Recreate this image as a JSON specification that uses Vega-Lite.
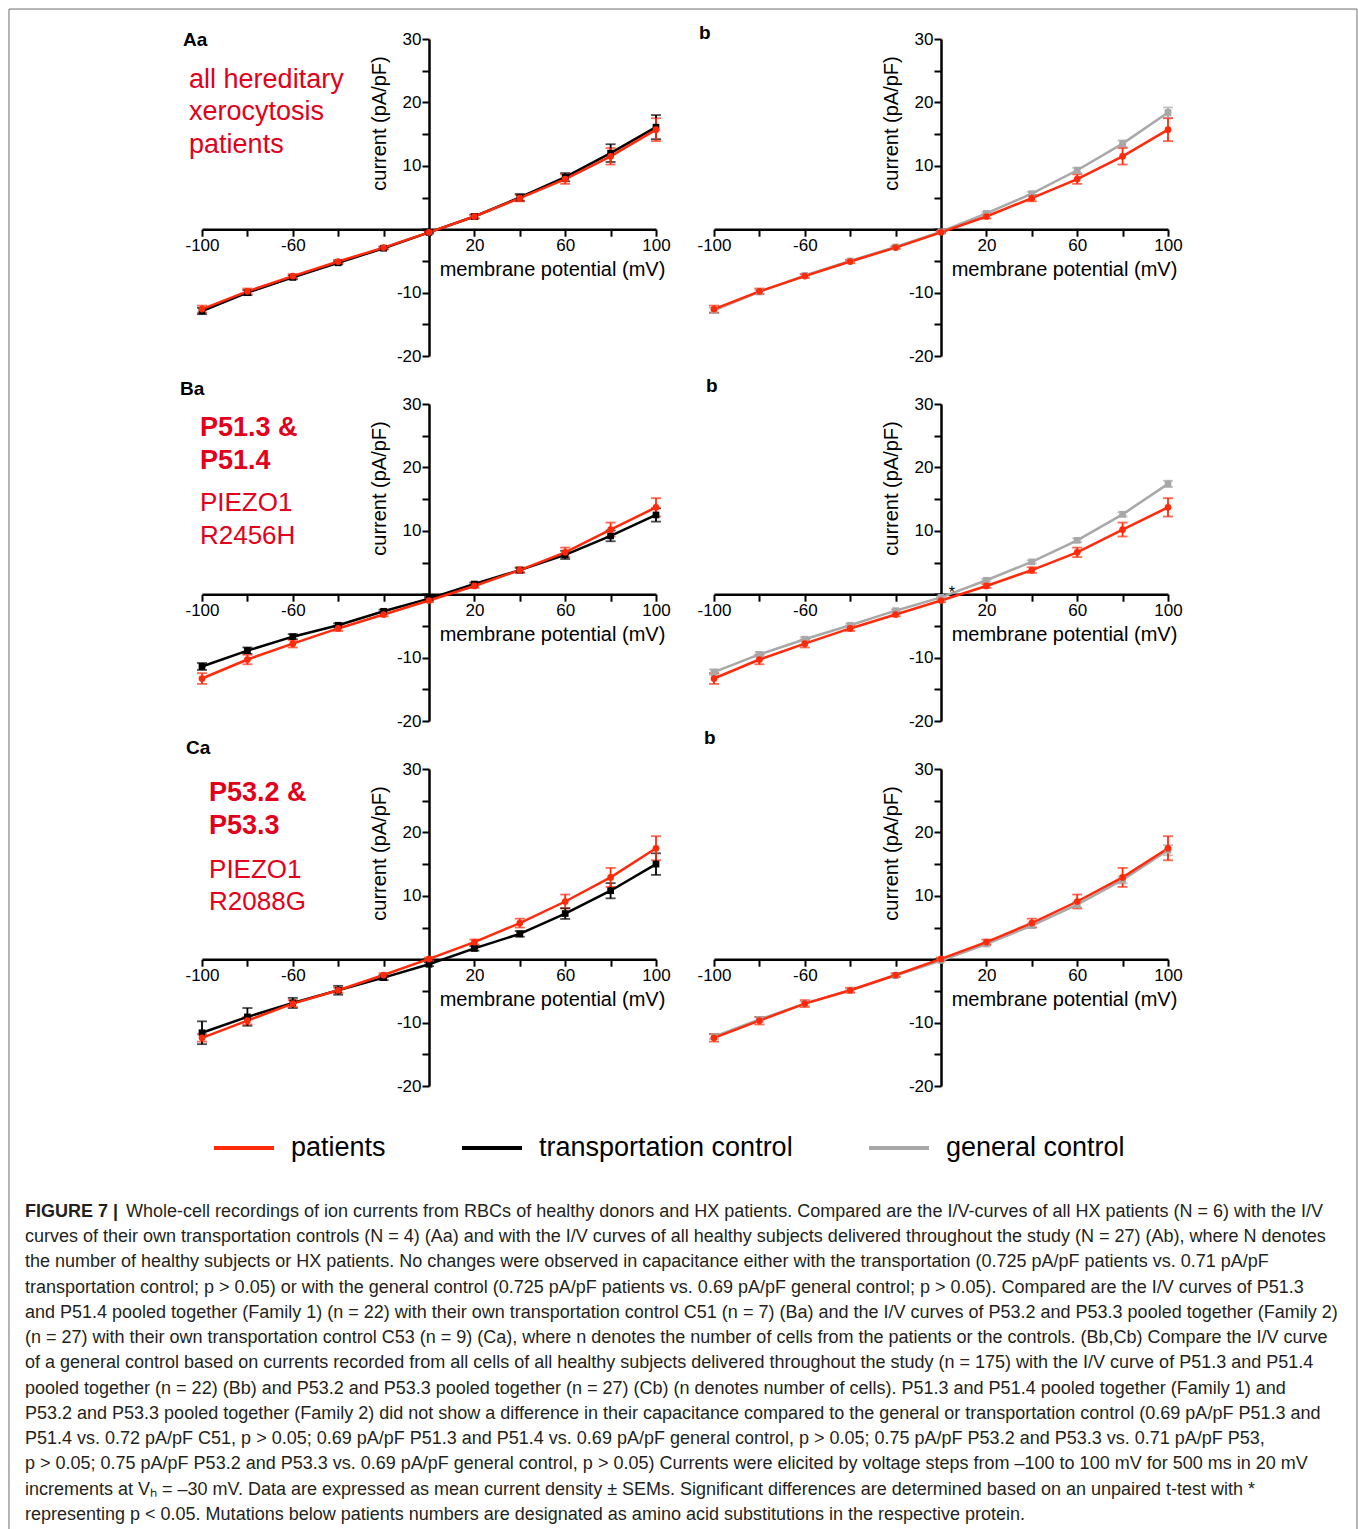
{
  "$schema": "https://vega.github.io/schema/vega-lite/v6.json",
  "padding": {"left": 8, "top": 8, "right": 1, "bottom": 1},
  "autosize": {"type": "pad"},
  "background": "white",
  "bounds": "flush",
  "columns": 2,
  "spacing": {"row": 48, "column": 58},
  "datasets": {
    "iv": [
      {"panel":"Aa","group":"transportation control","mV":-100,"I":-12.9,"sem":0.5},
      {"panel":"Aa","group":"transportation control","mV":-80,"I":-10.0,"sem":0.4},
      {"panel":"Aa","group":"transportation control","mV":-60,"I":-7.6,"sem":0.3},
      {"panel":"Aa","group":"transportation control","mV":-40,"I":-5.3,"sem":0.25},
      {"panel":"Aa","group":"transportation control","mV":-20,"I":-3.0,"sem":0.2},
      {"panel":"Aa","group":"transportation control","mV":0,"I":-0.5,"sem":0.15},
      {"panel":"Aa","group":"transportation control","mV":20,"I":2.0,"sem":0.3},
      {"panel":"Aa","group":"transportation control","mV":40,"I":5.0,"sem":0.55},
      {"panel":"Aa","group":"transportation control","mV":60,"I":8.2,"sem":0.65},
      {"panel":"Aa","group":"transportation control","mV":80,"I":12.0,"sem":1.4},
      {"panel":"Aa","group":"transportation control","mV":100,"I":16.1,"sem":1.9},
      {"panel":"Aa","group":"patients","mV":-100,"I":-12.6,"sem":0.55},
      {"panel":"Aa","group":"patients","mV":-80,"I":-9.8,"sem":0.45},
      {"panel":"Aa","group":"patients","mV":-60,"I":-7.4,"sem":0.3},
      {"panel":"Aa","group":"patients","mV":-40,"I":-5.1,"sem":0.25},
      {"panel":"Aa","group":"patients","mV":-20,"I":-2.9,"sem":0.2},
      {"panel":"Aa","group":"patients","mV":0,"I":-0.5,"sem":0.15},
      {"panel":"Aa","group":"patients","mV":20,"I":2.0,"sem":0.3},
      {"panel":"Aa","group":"patients","mV":40,"I":4.9,"sem":0.5},
      {"panel":"Aa","group":"patients","mV":60,"I":7.9,"sem":0.75},
      {"panel":"Aa","group":"patients","mV":80,"I":11.5,"sem":1.3},
      {"panel":"Aa","group":"patients","mV":100,"I":15.7,"sem":1.8},

      {"panel":"Ab","group":"general control","mV":-100,"I":-12.8,"sem":0.4},
      {"panel":"Ab","group":"general control","mV":-80,"I":-9.9,"sem":0.3},
      {"panel":"Ab","group":"general control","mV":-60,"I":-7.3,"sem":0.25},
      {"panel":"Ab","group":"general control","mV":-40,"I":-5.0,"sem":0.2},
      {"panel":"Ab","group":"general control","mV":-20,"I":-2.8,"sem":0.15},
      {"panel":"Ab","group":"general control","mV":0,"I":-0.4,"sem":0.15},
      {"panel":"Ab","group":"general control","mV":20,"I":2.5,"sem":0.2},
      {"panel":"Ab","group":"general control","mV":40,"I":5.6,"sem":0.3},
      {"panel":"Ab","group":"general control","mV":60,"I":9.3,"sem":0.4},
      {"panel":"Ab","group":"general control","mV":80,"I":13.5,"sem":0.5},
      {"panel":"Ab","group":"general control","mV":100,"I":18.4,"sem":0.8},
      {"panel":"Ab","group":"patients","mV":-100,"I":-12.6,"sem":0.55},
      {"panel":"Ab","group":"patients","mV":-80,"I":-9.8,"sem":0.45},
      {"panel":"Ab","group":"patients","mV":-60,"I":-7.4,"sem":0.3},
      {"panel":"Ab","group":"patients","mV":-40,"I":-5.1,"sem":0.25},
      {"panel":"Ab","group":"patients","mV":-20,"I":-2.9,"sem":0.2},
      {"panel":"Ab","group":"patients","mV":0,"I":-0.5,"sem":0.15},
      {"panel":"Ab","group":"patients","mV":20,"I":2.0,"sem":0.3},
      {"panel":"Ab","group":"patients","mV":40,"I":4.9,"sem":0.5},
      {"panel":"Ab","group":"patients","mV":60,"I":7.9,"sem":0.75},
      {"panel":"Ab","group":"patients","mV":80,"I":11.5,"sem":1.3},
      {"panel":"Ab","group":"patients","mV":100,"I":15.7,"sem":1.8},

      {"panel":"Ba","group":"transportation control","mV":-100,"I":-11.4,"sem":0.55},
      {"panel":"Ba","group":"transportation control","mV":-80,"I":-8.9,"sem":0.5},
      {"panel":"Ba","group":"transportation control","mV":-60,"I":-6.7,"sem":0.4},
      {"panel":"Ba","group":"transportation control","mV":-40,"I":-4.9,"sem":0.3},
      {"panel":"Ba","group":"transportation control","mV":-20,"I":-2.7,"sem":0.25},
      {"panel":"Ba","group":"transportation control","mV":0,"I":-0.7,"sem":0.25},
      {"panel":"Ba","group":"transportation control","mV":20,"I":1.6,"sem":0.25},
      {"panel":"Ba","group":"transportation control","mV":40,"I":3.8,"sem":0.35},
      {"panel":"Ba","group":"transportation control","mV":60,"I":6.2,"sem":0.65},
      {"panel":"Ba","group":"transportation control","mV":80,"I":9.2,"sem":0.85},
      {"panel":"Ba","group":"transportation control","mV":100,"I":12.5,"sem":1.05},
      {"panel":"Ba","group":"patients","mV":-100,"I":-13.3,"sem":0.85},
      {"panel":"Ba","group":"patients","mV":-80,"I":-10.3,"sem":0.75},
      {"panel":"Ba","group":"patients","mV":-60,"I":-7.8,"sem":0.6},
      {"panel":"Ba","group":"patients","mV":-40,"I":-5.4,"sem":0.4},
      {"panel":"Ba","group":"patients","mV":-20,"I":-3.2,"sem":0.3},
      {"panel":"Ba","group":"patients","mV":0,"I":-1.0,"sem":0.25},
      {"panel":"Ba","group":"patients","mV":20,"I":1.3,"sem":0.3},
      {"panel":"Ba","group":"patients","mV":40,"I":3.8,"sem":0.45},
      {"panel":"Ba","group":"patients","mV":60,"I":6.6,"sem":0.75},
      {"panel":"Ba","group":"patients","mV":80,"I":10.2,"sem":1.1},
      {"panel":"Ba","group":"patients","mV":100,"I":13.7,"sem":1.45},

      {"panel":"Bb","group":"general control","mV":-100,"I":-12.3,"sem":0.45},
      {"panel":"Bb","group":"general control","mV":-80,"I":-9.5,"sem":0.35},
      {"panel":"Bb","group":"general control","mV":-60,"I":-7.1,"sem":0.3},
      {"panel":"Bb","group":"general control","mV":-40,"I":-4.9,"sem":0.25},
      {"panel":"Bb","group":"general control","mV":-20,"I":-2.6,"sem":0.2},
      {"panel":"Bb","group":"general control","mV":0,"I":-0.5,"sem":0.15},
      {"panel":"Bb","group":"general control","mV":20,"I":2.2,"sem":0.2},
      {"panel":"Bb","group":"general control","mV":40,"I":5.1,"sem":0.25},
      {"panel":"Bb","group":"general control","mV":60,"I":8.5,"sem":0.3},
      {"panel":"Bb","group":"general control","mV":80,"I":12.6,"sem":0.35},
      {"panel":"Bb","group":"general control","mV":100,"I":17.4,"sem":0.5},
      {"panel":"Bb","group":"patients","mV":-100,"I":-13.3,"sem":0.85},
      {"panel":"Bb","group":"patients","mV":-80,"I":-10.3,"sem":0.75},
      {"panel":"Bb","group":"patients","mV":-60,"I":-7.8,"sem":0.6},
      {"panel":"Bb","group":"patients","mV":-40,"I":-5.4,"sem":0.4},
      {"panel":"Bb","group":"patients","mV":-20,"I":-3.2,"sem":0.3},
      {"panel":"Bb","group":"patients","mV":0,"I":-1.0,"sem":0.25},
      {"panel":"Bb","group":"patients","mV":20,"I":1.3,"sem":0.3},
      {"panel":"Bb","group":"patients","mV":40,"I":3.8,"sem":0.45},
      {"panel":"Bb","group":"patients","mV":60,"I":6.6,"sem":0.75},
      {"panel":"Bb","group":"patients","mV":80,"I":10.2,"sem":1.1},
      {"panel":"Bb","group":"patients","mV":100,"I":13.7,"sem":1.45},

      {"panel":"Ca","group":"transportation control","mV":-100,"I":-11.6,"sem":1.8},
      {"panel":"Ca","group":"transportation control","mV":-80,"I":-9.1,"sem":1.4},
      {"panel":"Ca","group":"transportation control","mV":-60,"I":-6.9,"sem":0.8},
      {"panel":"Ca","group":"transportation control","mV":-40,"I":-4.9,"sem":0.7},
      {"panel":"Ca","group":"transportation control","mV":-20,"I":-2.9,"sem":0.4},
      {"panel":"Ca","group":"transportation control","mV":0,"I":-0.8,"sem":0.3},
      {"panel":"Ca","group":"transportation control","mV":20,"I":1.7,"sem":0.35},
      {"panel":"Ca","group":"transportation control","mV":40,"I":4.0,"sem":0.45},
      {"panel":"Ca","group":"transportation control","mV":60,"I":7.2,"sem":0.85},
      {"panel":"Ca","group":"transportation control","mV":80,"I":10.8,"sem":1.2},
      {"panel":"Ca","group":"transportation control","mV":100,"I":15.0,"sem":1.7},
      {"panel":"Ca","group":"patients","mV":-100,"I":-12.4,"sem":0.6},
      {"panel":"Ca","group":"patients","mV":-80,"I":-9.7,"sem":0.6},
      {"panel":"Ca","group":"patients","mV":-60,"I":-7.0,"sem":0.55},
      {"panel":"Ca","group":"patients","mV":-40,"I":-4.9,"sem":0.4},
      {"panel":"Ca","group":"patients","mV":-20,"I":-2.5,"sem":0.3},
      {"panel":"Ca","group":"patients","mV":0,"I":0.05,"sem":0.2},
      {"panel":"Ca","group":"patients","mV":20,"I":2.7,"sem":0.4},
      {"panel":"Ca","group":"patients","mV":40,"I":5.7,"sem":0.7},
      {"panel":"Ca","group":"patients","mV":60,"I":9.1,"sem":1.1},
      {"panel":"Ca","group":"patients","mV":80,"I":12.9,"sem":1.5},
      {"panel":"Ca","group":"patients","mV":100,"I":17.5,"sem":1.9},

      {"panel":"Cb","group":"general control","mV":-100,"I":-12.2,"sem":0.4},
      {"panel":"Cb","group":"general control","mV":-80,"I":-9.5,"sem":0.35},
      {"panel":"Cb","group":"general control","mV":-60,"I":-7.0,"sem":0.3},
      {"panel":"Cb","group":"general control","mV":-40,"I":-4.9,"sem":0.25},
      {"panel":"Cb","group":"general control","mV":-20,"I":-2.6,"sem":0.2},
      {"panel":"Cb","group":"general control","mV":0,"I":-0.2,"sem":0.15},
      {"panel":"Cb","group":"general control","mV":20,"I":2.4,"sem":0.25},
      {"panel":"Cb","group":"general control","mV":40,"I":5.3,"sem":0.3},
      {"panel":"Cb","group":"general control","mV":60,"I":8.6,"sem":0.4},
      {"panel":"Cb","group":"general control","mV":80,"I":12.5,"sem":0.55},
      {"panel":"Cb","group":"general control","mV":100,"I":17.2,"sem":0.8},
      {"panel":"Cb","group":"patients","mV":-100,"I":-12.4,"sem":0.6},
      {"panel":"Cb","group":"patients","mV":-80,"I":-9.7,"sem":0.6},
      {"panel":"Cb","group":"patients","mV":-60,"I":-7.0,"sem":0.55},
      {"panel":"Cb","group":"patients","mV":-40,"I":-4.9,"sem":0.4},
      {"panel":"Cb","group":"patients","mV":-20,"I":-2.5,"sem":0.3},
      {"panel":"Cb","group":"patients","mV":0,"I":0.05,"sem":0.2},
      {"panel":"Cb","group":"patients","mV":20,"I":2.7,"sem":0.4},
      {"panel":"Cb","group":"patients","mV":40,"I":5.7,"sem":0.7},
      {"panel":"Cb","group":"patients","mV":60,"I":9.1,"sem":1.1},
      {"panel":"Cb","group":"patients","mV":80,"I":12.9,"sem":1.5},
      {"panel":"Cb","group":"patients","mV":100,"I":17.5,"sem":1.9}
    ]
  },
  "concat": [
    {
      "width": 454, "height": 317,
      "title": {"text": "Aa", "anchor": "start", "frame": "group", "dx": -19, "offset": -20, "fontSize": 19, "fontWeight": "bold", "color": "#000"},
      "layer": [
        {"data": {"name": "iv"}, "transform": [{"filter": "datum.panel === 'Aa'"}], "mark": {"type": "errorbar", "ticks": {"size": 10, "thickness": 1.8}, "thickness": 1.8},
         "encoding": {
          "x": {"field": "mV", "type": "quantitative", "scale": {"domain": [-100, 100], "nice": false, "zero": false}, "axis": {"title": "membrane potential (mV)", "offset": -126.8, "values": [-100,-80,-60,-40,-20,0,20,40,60,80,100], "labelExpr": "indexof([-100,-60,20,60,100], datum.value) >= 0 ? '' + datum.value : ''", "titleX": 350, "titleY": 40, "titleBaseline": "middle"}},
          "y": {"field": "I", "type": "quantitative", "scale": {"domain": [-20, 30], "nice": false, "zero": false}, "axis": {"title": "current (pA/pF)", "offset": -227, "values": [-20,-15,-10,-5,0,5,10,15,20,25,30], "labelExpr": "datum.value % 10 === 0 && datum.value !== 0 ? '' + datum.value : ''", "titleX": -50, "titleY": 84, "titleBaseline": "middle"}},
          "yError": {"field": "sem"},
          "color": {"field": "group", "type": "nominal", "scale": {"domain": ["general control", "transportation control", "patients"], "range": ["#a8a8a8", "#000000", "#ff2a0a"]}, "legend": null}}},
        {"data": {"name": "iv"}, "transform": [{"filter": "datum.panel === 'Aa'"}], "mark": {"type": "line", "strokeWidth": 2.5},
         "encoding": {
          "x": {"field": "mV", "type": "quantitative", "scale": {"domain": [-100, 100], "nice": false, "zero": false}, "axis": {"title": "membrane potential (mV)", "offset": -126.8, "values": [-100,-80,-60,-40,-20,0,20,40,60,80,100], "labelExpr": "indexof([-100,-60,20,60,100], datum.value) >= 0 ? '' + datum.value : ''", "titleX": 350, "titleY": 40, "titleBaseline": "middle"}},
          "y": {"field": "I", "type": "quantitative", "scale": {"domain": [-20, 30], "nice": false, "zero": false}, "axis": {"title": "current (pA/pF)", "offset": -227, "values": [-20,-15,-10,-5,0,5,10,15,20,25,30], "labelExpr": "datum.value % 10 === 0 && datum.value !== 0 ? '' + datum.value : ''", "titleX": -50, "titleY": 84, "titleBaseline": "middle"}},
          "stroke": {"field": "group", "type": "nominal", "scale": {"domain": ["patients", "transportation control", "general control"], "range": ["#ff2a0a", "#000000", "#a8a8a8"]}, "legend": {"orient": "none", "legendX": 10, "legendY": 1077, "direction": "horizontal", "title": null, "symbolType": "stroke", "symbolSize": 3600, "symbolStrokeWidth": 4, "labelFontSize": 27, "labelOffset": 15, "columnPadding": 68, "labelColor": "#000", "labelLimit": 500, "padding": 0}}}},
        {"data": {"name": "iv"}, "transform": [{"filter": "datum.panel === 'Aa'"}], "mark": {"type": "point", "filled": true, "size": 45, "opacity": 1},
         "encoding": {
          "x": {"field": "mV", "type": "quantitative", "scale": {"domain": [-100, 100], "nice": false, "zero": false}, "axis": {"title": "membrane potential (mV)", "offset": -126.8, "values": [-100,-80,-60,-40,-20,0,20,40,60,80,100], "labelExpr": "indexof([-100,-60,20,60,100], datum.value) >= 0 ? '' + datum.value : ''", "titleX": 350, "titleY": 40, "titleBaseline": "middle"}},
          "y": {"field": "I", "type": "quantitative", "scale": {"domain": [-20, 30], "nice": false, "zero": false}, "axis": {"title": "current (pA/pF)", "offset": -227, "values": [-20,-15,-10,-5,0,5,10,15,20,25,30], "labelExpr": "datum.value % 10 === 0 && datum.value !== 0 ? '' + datum.value : ''", "titleX": -50, "titleY": 84, "titleBaseline": "middle"}},
          "color": {"field": "group", "type": "nominal", "scale": {"domain": ["general control", "transportation control", "patients"], "range": ["#a8a8a8", "#000000", "#ff2a0a"]}, "legend": null},
          "shape": {"field": "group", "type": "nominal", "scale": {"domain": ["general control", "transportation control", "patients"], "range": ["square", "square", "circle"]}, "legend": null}}},
        {"data": {"values": [{"note": "annotation"}]}, "mark": {"type": "text", "align": "left", "baseline": "alphabetic", "fontSize": 27, "lineHeight": 32.5, "color": "#e2001a"},
         "encoding": {
          "x": {"datum": -105.7, "type": "quantitative", "axis": {"title": "membrane potential (mV)", "offset": -126.8, "values": [-100,-80,-60,-40,-20,0,20,40,60,80,100], "labelExpr": "indexof([-100,-60,20,60,100], datum.value) >= 0 ? '' + datum.value : ''", "titleX": 350, "titleY": 40, "titleBaseline": "middle"}},
          "y": {"datum": 22.3, "type": "quantitative", "axis": {"title": "current (pA/pF)", "offset": -227, "values": [-20,-15,-10,-5,0,5,10,15,20,25,30], "labelExpr": "datum.value % 10 === 0 && datum.value !== 0 ? '' + datum.value : ''", "titleX": -50, "titleY": 84, "titleBaseline": "middle"}},
          "text": {"value": ["all hereditary", "xerocytosis", "patients"]}}}
      ]
    },
    {
      "width": 454, "height": 317,
      "title": {"text": "b", "anchor": "start", "frame": "group", "dx": -15, "offset": -13, "fontSize": 19, "fontWeight": "bold", "color": "#000"},
      "layer": [
        {"data": {"name": "iv"}, "transform": [{"filter": "datum.panel === 'Ab'"}], "mark": {"type": "errorbar", "ticks": {"size": 10, "thickness": 1.8}, "thickness": 1.8},
         "encoding": {
          "x": {"field": "mV", "type": "quantitative", "scale": {"domain": [-100, 100], "nice": false, "zero": false}, "axis": {"title": "membrane potential (mV)", "offset": -126.8, "values": [-100,-80,-60,-40,-20,0,20,40,60,80,100], "labelExpr": "indexof([-100,-60,20,60,100], datum.value) >= 0 ? '' + datum.value : ''", "titleX": 350, "titleY": 40, "titleBaseline": "middle"}},
          "y": {"field": "I", "type": "quantitative", "scale": {"domain": [-20, 30], "nice": false, "zero": false}, "axis": {"title": "current (pA/pF)", "offset": -227, "values": [-20,-15,-10,-5,0,5,10,15,20,25,30], "labelExpr": "datum.value % 10 === 0 && datum.value !== 0 ? '' + datum.value : ''", "titleX": -50, "titleY": 84, "titleBaseline": "middle"}},
          "yError": {"field": "sem"},
          "color": {"field": "group", "type": "nominal", "scale": {"domain": ["general control", "transportation control", "patients"], "range": ["#a8a8a8", "#000000", "#ff2a0a"]}, "legend": null}}},
        {"data": {"name": "iv"}, "transform": [{"filter": "datum.panel === 'Ab'"}], "mark": {"type": "line", "strokeWidth": 2.5},
         "encoding": {
          "x": {"field": "mV", "type": "quantitative", "scale": {"domain": [-100, 100], "nice": false, "zero": false}, "axis": {"title": "membrane potential (mV)", "offset": -126.8, "values": [-100,-80,-60,-40,-20,0,20,40,60,80,100], "labelExpr": "indexof([-100,-60,20,60,100], datum.value) >= 0 ? '' + datum.value : ''", "titleX": 350, "titleY": 40, "titleBaseline": "middle"}},
          "y": {"field": "I", "type": "quantitative", "scale": {"domain": [-20, 30], "nice": false, "zero": false}, "axis": {"title": "current (pA/pF)", "offset": -227, "values": [-20,-15,-10,-5,0,5,10,15,20,25,30], "labelExpr": "datum.value % 10 === 0 && datum.value !== 0 ? '' + datum.value : ''", "titleX": -50, "titleY": 84, "titleBaseline": "middle"}},
          "stroke": {"field": "group", "type": "nominal", "scale": {"domain": ["patients", "transportation control", "general control"], "range": ["#ff2a0a", "#000000", "#a8a8a8"]}, "legend": {"orient": "none", "legendX": 10, "legendY": 1077, "direction": "horizontal", "title": null, "symbolType": "stroke", "symbolSize": 3600, "symbolStrokeWidth": 4, "labelFontSize": 27, "labelOffset": 15, "columnPadding": 68, "labelColor": "#000", "labelLimit": 500, "padding": 0}}}},
        {"data": {"name": "iv"}, "transform": [{"filter": "datum.panel === 'Ab'"}], "mark": {"type": "point", "filled": true, "size": 45, "opacity": 1},
         "encoding": {
          "x": {"field": "mV", "type": "quantitative", "scale": {"domain": [-100, 100], "nice": false, "zero": false}, "axis": {"title": "membrane potential (mV)", "offset": -126.8, "values": [-100,-80,-60,-40,-20,0,20,40,60,80,100], "labelExpr": "indexof([-100,-60,20,60,100], datum.value) >= 0 ? '' + datum.value : ''", "titleX": 350, "titleY": 40, "titleBaseline": "middle"}},
          "y": {"field": "I", "type": "quantitative", "scale": {"domain": [-20, 30], "nice": false, "zero": false}, "axis": {"title": "current (pA/pF)", "offset": -227, "values": [-20,-15,-10,-5,0,5,10,15,20,25,30], "labelExpr": "datum.value % 10 === 0 && datum.value !== 0 ? '' + datum.value : ''", "titleX": -50, "titleY": 84, "titleBaseline": "middle"}},
          "color": {"field": "group", "type": "nominal", "scale": {"domain": ["general control", "transportation control", "patients"], "range": ["#a8a8a8", "#000000", "#ff2a0a"]}, "legend": null},
          "shape": {"field": "group", "type": "nominal", "scale": {"domain": ["general control", "transportation control", "patients"], "range": ["square", "square", "circle"]}, "legend": null}}}
      ]
    },
    {
      "width": 454, "height": 317,
      "title": {"text": "Ba", "anchor": "start", "frame": "group", "dx": -22, "offset": -4, "fontSize": 19, "fontWeight": "bold", "color": "#000"},
      "layer": [
        {"data": {"name": "iv"}, "transform": [{"filter": "datum.panel === 'Ba'"}], "mark": {"type": "errorbar", "ticks": {"size": 10, "thickness": 1.8}, "thickness": 1.8},
         "encoding": {
          "x": {"field": "mV", "type": "quantitative", "scale": {"domain": [-100, 100], "nice": false, "zero": false}, "axis": {"title": "membrane potential (mV)", "offset": -126.8, "values": [-100,-80,-60,-40,-20,0,20,40,60,80,100], "labelExpr": "indexof([-100,-60,20,60,100], datum.value) >= 0 ? '' + datum.value : ''", "titleX": 350, "titleY": 40, "titleBaseline": "middle"}},
          "y": {"field": "I", "type": "quantitative", "scale": {"domain": [-20, 30], "nice": false, "zero": false}, "axis": {"title": "current (pA/pF)", "offset": -227, "values": [-20,-15,-10,-5,0,5,10,15,20,25,30], "labelExpr": "datum.value % 10 === 0 && datum.value !== 0 ? '' + datum.value : ''", "titleX": -50, "titleY": 84, "titleBaseline": "middle"}},
          "yError": {"field": "sem"},
          "color": {"field": "group", "type": "nominal", "scale": {"domain": ["general control", "transportation control", "patients"], "range": ["#a8a8a8", "#000000", "#ff2a0a"]}, "legend": null}}},
        {"data": {"name": "iv"}, "transform": [{"filter": "datum.panel === 'Ba'"}], "mark": {"type": "line", "strokeWidth": 2.5},
         "encoding": {
          "x": {"field": "mV", "type": "quantitative", "scale": {"domain": [-100, 100], "nice": false, "zero": false}, "axis": {"title": "membrane potential (mV)", "offset": -126.8, "values": [-100,-80,-60,-40,-20,0,20,40,60,80,100], "labelExpr": "indexof([-100,-60,20,60,100], datum.value) >= 0 ? '' + datum.value : ''", "titleX": 350, "titleY": 40, "titleBaseline": "middle"}},
          "y": {"field": "I", "type": "quantitative", "scale": {"domain": [-20, 30], "nice": false, "zero": false}, "axis": {"title": "current (pA/pF)", "offset": -227, "values": [-20,-15,-10,-5,0,5,10,15,20,25,30], "labelExpr": "datum.value % 10 === 0 && datum.value !== 0 ? '' + datum.value : ''", "titleX": -50, "titleY": 84, "titleBaseline": "middle"}},
          "stroke": {"field": "group", "type": "nominal", "scale": {"domain": ["patients", "transportation control", "general control"], "range": ["#ff2a0a", "#000000", "#a8a8a8"]}, "legend": {"orient": "none", "legendX": 10, "legendY": 1077, "direction": "horizontal", "title": null, "symbolType": "stroke", "symbolSize": 3600, "symbolStrokeWidth": 4, "labelFontSize": 27, "labelOffset": 15, "columnPadding": 68, "labelColor": "#000", "labelLimit": 500, "padding": 0}}}},
        {"data": {"name": "iv"}, "transform": [{"filter": "datum.panel === 'Ba'"}], "mark": {"type": "point", "filled": true, "size": 45, "opacity": 1},
         "encoding": {
          "x": {"field": "mV", "type": "quantitative", "scale": {"domain": [-100, 100], "nice": false, "zero": false}, "axis": {"title": "membrane potential (mV)", "offset": -126.8, "values": [-100,-80,-60,-40,-20,0,20,40,60,80,100], "labelExpr": "indexof([-100,-60,20,60,100], datum.value) >= 0 ? '' + datum.value : ''", "titleX": 350, "titleY": 40, "titleBaseline": "middle"}},
          "y": {"field": "I", "type": "quantitative", "scale": {"domain": [-20, 30], "nice": false, "zero": false}, "axis": {"title": "current (pA/pF)", "offset": -227, "values": [-20,-15,-10,-5,0,5,10,15,20,25,30], "labelExpr": "datum.value % 10 === 0 && datum.value !== 0 ? '' + datum.value : ''", "titleX": -50, "titleY": 84, "titleBaseline": "middle"}},
          "color": {"field": "group", "type": "nominal", "scale": {"domain": ["general control", "transportation control", "patients"], "range": ["#a8a8a8", "#000000", "#ff2a0a"]}, "legend": null},
          "shape": {"field": "group", "type": "nominal", "scale": {"domain": ["general control", "transportation control", "patients"], "range": ["square", "square", "circle"]}, "legend": null}}},
        {"data": {"values": [{"note": "annotation"}]}, "mark": {"type": "text", "align": "left", "baseline": "alphabetic", "fontSize": 27, "fontWeight": "bold", "lineHeight": 33, "color": "#e2001a"},
         "encoding": {
          "x": {"datum": -100.9, "type": "quantitative", "axis": {"title": "membrane potential (mV)", "offset": -126.8, "values": [-100,-80,-60,-40,-20,0,20,40,60,80,100], "labelExpr": "indexof([-100,-60,20,60,100], datum.value) >= 0 ? '' + datum.value : ''", "titleX": 350, "titleY": 40, "titleBaseline": "middle"}},
          "y": {"datum": 24.9, "type": "quantitative", "axis": {"title": "current (pA/pF)", "offset": -227, "values": [-20,-15,-10,-5,0,5,10,15,20,25,30], "labelExpr": "datum.value % 10 === 0 && datum.value !== 0 ? '' + datum.value : ''", "titleX": -50, "titleY": 84, "titleBaseline": "middle"}},
          "text": {"value": ["P51.3 &", "P51.4"]}}},
        {"data": {"values": [{"note": "annotation"}]}, "mark": {"type": "text", "align": "left", "baseline": "alphabetic", "fontSize": 26, "lineHeight": 33, "color": "#e2001a"},
         "encoding": {
          "x": {"datum": -100.9, "type": "quantitative", "axis": {"title": "membrane potential (mV)", "offset": -126.8, "values": [-100,-80,-60,-40,-20,0,20,40,60,80,100], "labelExpr": "indexof([-100,-60,20,60,100], datum.value) >= 0 ? '' + datum.value : ''", "titleX": 350, "titleY": 40, "titleBaseline": "middle"}},
          "y": {"datum": 13.1, "type": "quantitative", "axis": {"title": "current (pA/pF)", "offset": -227, "values": [-20,-15,-10,-5,0,5,10,15,20,25,30], "labelExpr": "datum.value % 10 === 0 && datum.value !== 0 ? '' + datum.value : ''", "titleX": -50, "titleY": 84, "titleBaseline": "middle"}},
          "text": {"value": ["PIEZO1", "R2456H"]}}}
      ]
    },
    {
      "width": 454, "height": 317,
      "title": {"text": "b", "anchor": "start", "frame": "group", "dx": -8, "offset": -1, "fontSize": 19, "fontWeight": "bold", "color": "#000"},
      "layer": [
        {"data": {"name": "iv"}, "transform": [{"filter": "datum.panel === 'Bb'"}], "mark": {"type": "errorbar", "ticks": {"size": 10, "thickness": 1.8}, "thickness": 1.8},
         "encoding": {
          "x": {"field": "mV", "type": "quantitative", "scale": {"domain": [-100, 100], "nice": false, "zero": false}, "axis": {"title": "membrane potential (mV)", "offset": -126.8, "values": [-100,-80,-60,-40,-20,0,20,40,60,80,100], "labelExpr": "indexof([-100,-60,20,60,100], datum.value) >= 0 ? '' + datum.value : ''", "titleX": 350, "titleY": 40, "titleBaseline": "middle"}},
          "y": {"field": "I", "type": "quantitative", "scale": {"domain": [-20, 30], "nice": false, "zero": false}, "axis": {"title": "current (pA/pF)", "offset": -227, "values": [-20,-15,-10,-5,0,5,10,15,20,25,30], "labelExpr": "datum.value % 10 === 0 && datum.value !== 0 ? '' + datum.value : ''", "titleX": -50, "titleY": 84, "titleBaseline": "middle"}},
          "yError": {"field": "sem"},
          "color": {"field": "group", "type": "nominal", "scale": {"domain": ["general control", "transportation control", "patients"], "range": ["#a8a8a8", "#000000", "#ff2a0a"]}, "legend": null}}},
        {"data": {"name": "iv"}, "transform": [{"filter": "datum.panel === 'Bb'"}], "mark": {"type": "line", "strokeWidth": 2.5},
         "encoding": {
          "x": {"field": "mV", "type": "quantitative", "scale": {"domain": [-100, 100], "nice": false, "zero": false}, "axis": {"title": "membrane potential (mV)", "offset": -126.8, "values": [-100,-80,-60,-40,-20,0,20,40,60,80,100], "labelExpr": "indexof([-100,-60,20,60,100], datum.value) >= 0 ? '' + datum.value : ''", "titleX": 350, "titleY": 40, "titleBaseline": "middle"}},
          "y": {"field": "I", "type": "quantitative", "scale": {"domain": [-20, 30], "nice": false, "zero": false}, "axis": {"title": "current (pA/pF)", "offset": -227, "values": [-20,-15,-10,-5,0,5,10,15,20,25,30], "labelExpr": "datum.value % 10 === 0 && datum.value !== 0 ? '' + datum.value : ''", "titleX": -50, "titleY": 84, "titleBaseline": "middle"}},
          "stroke": {"field": "group", "type": "nominal", "scale": {"domain": ["patients", "transportation control", "general control"], "range": ["#ff2a0a", "#000000", "#a8a8a8"]}, "legend": {"orient": "none", "legendX": 10, "legendY": 1077, "direction": "horizontal", "title": null, "symbolType": "stroke", "symbolSize": 3600, "symbolStrokeWidth": 4, "labelFontSize": 27, "labelOffset": 15, "columnPadding": 68, "labelColor": "#000", "labelLimit": 500, "padding": 0}}}},
        {"data": {"name": "iv"}, "transform": [{"filter": "datum.panel === 'Bb'"}], "mark": {"type": "point", "filled": true, "size": 45, "opacity": 1},
         "encoding": {
          "x": {"field": "mV", "type": "quantitative", "scale": {"domain": [-100, 100], "nice": false, "zero": false}, "axis": {"title": "membrane potential (mV)", "offset": -126.8, "values": [-100,-80,-60,-40,-20,0,20,40,60,80,100], "labelExpr": "indexof([-100,-60,20,60,100], datum.value) >= 0 ? '' + datum.value : ''", "titleX": 350, "titleY": 40, "titleBaseline": "middle"}},
          "y": {"field": "I", "type": "quantitative", "scale": {"domain": [-20, 30], "nice": false, "zero": false}, "axis": {"title": "current (pA/pF)", "offset": -227, "values": [-20,-15,-10,-5,0,5,10,15,20,25,30], "labelExpr": "datum.value % 10 === 0 && datum.value !== 0 ? '' + datum.value : ''", "titleX": -50, "titleY": 84, "titleBaseline": "middle"}},
          "color": {"field": "group", "type": "nominal", "scale": {"domain": ["general control", "transportation control", "patients"], "range": ["#a8a8a8", "#000000", "#ff2a0a"]}, "legend": null},
          "shape": {"field": "group", "type": "nominal", "scale": {"domain": ["general control", "transportation control", "patients"], "range": ["square", "square", "circle"]}, "legend": null}}},
        {"data": {"values": [{"note": "significance"}]}, "mark": {"type": "text", "align": "center", "baseline": "middle", "fontSize": 16, "color": "#000"},
         "encoding": {
          "x": {"datum": 4.8, "type": "quantitative", "axis": {"title": "membrane potential (mV)", "offset": -126.8, "values": [-100,-80,-60,-40,-20,0,20,40,60,80,100], "labelExpr": "indexof([-100,-60,20,60,100], datum.value) >= 0 ? '' + datum.value : ''", "titleX": 350, "titleY": 40, "titleBaseline": "middle"}},
          "y": {"datum": 0.2, "type": "quantitative", "axis": {"title": "current (pA/pF)", "offset": -227, "values": [-20,-15,-10,-5,0,5,10,15,20,25,30], "labelExpr": "datum.value % 10 === 0 && datum.value !== 0 ? '' + datum.value : ''", "titleX": -50, "titleY": 84, "titleBaseline": "middle"}},
          "text": {"value": "*"}}}
      ]
    },
    {
      "width": 454, "height": 317,
      "title": {"text": "Ca", "anchor": "start", "frame": "group", "dx": -16, "offset": 2, "fontSize": 19, "fontWeight": "bold", "color": "#000"},
      "layer": [
        {"data": {"name": "iv"}, "transform": [{"filter": "datum.panel === 'Ca'"}], "mark": {"type": "errorbar", "ticks": {"size": 10, "thickness": 1.8}, "thickness": 1.8},
         "encoding": {
          "x": {"field": "mV", "type": "quantitative", "scale": {"domain": [-100, 100], "nice": false, "zero": false}, "axis": {"title": "membrane potential (mV)", "offset": -126.8, "values": [-100,-80,-60,-40,-20,0,20,40,60,80,100], "labelExpr": "indexof([-100,-60,20,60,100], datum.value) >= 0 ? '' + datum.value : ''", "titleX": 350, "titleY": 40, "titleBaseline": "middle"}},
          "y": {"field": "I", "type": "quantitative", "scale": {"domain": [-20, 30], "nice": false, "zero": false}, "axis": {"title": "current (pA/pF)", "offset": -227, "values": [-20,-15,-10,-5,0,5,10,15,20,25,30], "labelExpr": "datum.value % 10 === 0 && datum.value !== 0 ? '' + datum.value : ''", "titleX": -50, "titleY": 84, "titleBaseline": "middle"}},
          "yError": {"field": "sem"},
          "color": {"field": "group", "type": "nominal", "scale": {"domain": ["general control", "transportation control", "patients"], "range": ["#a8a8a8", "#000000", "#ff2a0a"]}, "legend": null}}},
        {"data": {"name": "iv"}, "transform": [{"filter": "datum.panel === 'Ca'"}], "mark": {"type": "line", "strokeWidth": 2.5},
         "encoding": {
          "x": {"field": "mV", "type": "quantitative", "scale": {"domain": [-100, 100], "nice": false, "zero": false}, "axis": {"title": "membrane potential (mV)", "offset": -126.8, "values": [-100,-80,-60,-40,-20,0,20,40,60,80,100], "labelExpr": "indexof([-100,-60,20,60,100], datum.value) >= 0 ? '' + datum.value : ''", "titleX": 350, "titleY": 40, "titleBaseline": "middle"}},
          "y": {"field": "I", "type": "quantitative", "scale": {"domain": [-20, 30], "nice": false, "zero": false}, "axis": {"title": "current (pA/pF)", "offset": -227, "values": [-20,-15,-10,-5,0,5,10,15,20,25,30], "labelExpr": "datum.value % 10 === 0 && datum.value !== 0 ? '' + datum.value : ''", "titleX": -50, "titleY": 84, "titleBaseline": "middle"}},
          "stroke": {"field": "group", "type": "nominal", "scale": {"domain": ["patients", "transportation control", "general control"], "range": ["#ff2a0a", "#000000", "#a8a8a8"]}, "legend": {"orient": "none", "legendX": 10, "legendY": 1077, "direction": "horizontal", "title": null, "symbolType": "stroke", "symbolSize": 3600, "symbolStrokeWidth": 4, "labelFontSize": 27, "labelOffset": 15, "columnPadding": 68, "labelColor": "#000", "labelLimit": 500, "padding": 0}}}},
        {"data": {"name": "iv"}, "transform": [{"filter": "datum.panel === 'Ca'"}], "mark": {"type": "point", "filled": true, "size": 45, "opacity": 1},
         "encoding": {
          "x": {"field": "mV", "type": "quantitative", "scale": {"domain": [-100, 100], "nice": false, "zero": false}, "axis": {"title": "membrane potential (mV)", "offset": -126.8, "values": [-100,-80,-60,-40,-20,0,20,40,60,80,100], "labelExpr": "indexof([-100,-60,20,60,100], datum.value) >= 0 ? '' + datum.value : ''", "titleX": 350, "titleY": 40, "titleBaseline": "middle"}},
          "y": {"field": "I", "type": "quantitative", "scale": {"domain": [-20, 30], "nice": false, "zero": false}, "axis": {"title": "current (pA/pF)", "offset": -227, "values": [-20,-15,-10,-5,0,5,10,15,20,25,30], "labelExpr": "datum.value % 10 === 0 && datum.value !== 0 ? '' + datum.value : ''", "titleX": -50, "titleY": 84, "titleBaseline": "middle"}},
          "color": {"field": "group", "type": "nominal", "scale": {"domain": ["general control", "transportation control", "patients"], "range": ["#a8a8a8", "#000000", "#ff2a0a"]}, "legend": null},
          "shape": {"field": "group", "type": "nominal", "scale": {"domain": ["general control", "transportation control", "patients"], "range": ["square", "square", "circle"]}, "legend": null}}},
        {"data": {"values": [{"note": "annotation"}]}, "mark": {"type": "text", "align": "left", "baseline": "alphabetic", "fontSize": 27, "fontWeight": "bold", "lineHeight": 33, "color": "#e2001a"},
         "encoding": {
          "x": {"datum": -96.9, "type": "quantitative", "axis": {"title": "membrane potential (mV)", "offset": -126.8, "values": [-100,-80,-60,-40,-20,0,20,40,60,80,100], "labelExpr": "indexof([-100,-60,20,60,100], datum.value) >= 0 ? '' + datum.value : ''", "titleX": 350, "titleY": 40, "titleBaseline": "middle"}},
          "y": {"datum": 25.0, "type": "quantitative", "axis": {"title": "current (pA/pF)", "offset": -227, "values": [-20,-15,-10,-5,0,5,10,15,20,25,30], "labelExpr": "datum.value % 10 === 0 && datum.value !== 0 ? '' + datum.value : ''", "titleX": -50, "titleY": 84, "titleBaseline": "middle"}},
          "text": {"value": ["P53.2 &", "P53.3"]}}},
        {"data": {"values": [{"note": "annotation"}]}, "mark": {"type": "text", "align": "left", "baseline": "alphabetic", "fontSize": 26, "lineHeight": 32, "color": "#e2001a"},
         "encoding": {
          "x": {"datum": -96.9, "type": "quantitative", "axis": {"title": "membrane potential (mV)", "offset": -126.8, "values": [-100,-80,-60,-40,-20,0,20,40,60,80,100], "labelExpr": "indexof([-100,-60,20,60,100], datum.value) >= 0 ? '' + datum.value : ''", "titleX": 350, "titleY": 40, "titleBaseline": "middle"}},
          "y": {"datum": 12.8, "type": "quantitative", "axis": {"title": "current (pA/pF)", "offset": -227, "values": [-20,-15,-10,-5,0,5,10,15,20,25,30], "labelExpr": "datum.value % 10 === 0 && datum.value !== 0 ? '' + datum.value : ''", "titleX": -50, "titleY": 84, "titleBaseline": "middle"}},
          "text": {"value": ["PIEZO1", "R2088G"]}}}
      ]
    },
    {
      "width": 454, "height": 317,
      "title": {"text": "b", "anchor": "start", "frame": "group", "dx": -10, "offset": 12, "fontSize": 19, "fontWeight": "bold", "color": "#000"},
      "layer": [
        {"data": {"name": "iv"}, "transform": [{"filter": "datum.panel === 'Cb'"}], "mark": {"type": "errorbar", "ticks": {"size": 10, "thickness": 1.8}, "thickness": 1.8},
         "encoding": {
          "x": {"field": "mV", "type": "quantitative", "scale": {"domain": [-100, 100], "nice": false, "zero": false}, "axis": {"title": "membrane potential (mV)", "offset": -126.8, "values": [-100,-80,-60,-40,-20,0,20,40,60,80,100], "labelExpr": "indexof([-100,-60,20,60,100], datum.value) >= 0 ? '' + datum.value : ''", "titleX": 350, "titleY": 40, "titleBaseline": "middle"}},
          "y": {"field": "I", "type": "quantitative", "scale": {"domain": [-20, 30], "nice": false, "zero": false}, "axis": {"title": "current (pA/pF)", "offset": -227, "values": [-20,-15,-10,-5,0,5,10,15,20,25,30], "labelExpr": "datum.value % 10 === 0 && datum.value !== 0 ? '' + datum.value : ''", "titleX": -50, "titleY": 84, "titleBaseline": "middle"}},
          "yError": {"field": "sem"},
          "color": {"field": "group", "type": "nominal", "scale": {"domain": ["general control", "transportation control", "patients"], "range": ["#a8a8a8", "#000000", "#ff2a0a"]}, "legend": null}}},
        {"data": {"name": "iv"}, "transform": [{"filter": "datum.panel === 'Cb'"}], "mark": {"type": "line", "strokeWidth": 2.5},
         "encoding": {
          "x": {"field": "mV", "type": "quantitative", "scale": {"domain": [-100, 100], "nice": false, "zero": false}, "axis": {"title": "membrane potential (mV)", "offset": -126.8, "values": [-100,-80,-60,-40,-20,0,20,40,60,80,100], "labelExpr": "indexof([-100,-60,20,60,100], datum.value) >= 0 ? '' + datum.value : ''", "titleX": 350, "titleY": 40, "titleBaseline": "middle"}},
          "y": {"field": "I", "type": "quantitative", "scale": {"domain": [-20, 30], "nice": false, "zero": false}, "axis": {"title": "current (pA/pF)", "offset": -227, "values": [-20,-15,-10,-5,0,5,10,15,20,25,30], "labelExpr": "datum.value % 10 === 0 && datum.value !== 0 ? '' + datum.value : ''", "titleX": -50, "titleY": 84, "titleBaseline": "middle"}},
          "stroke": {"field": "group", "type": "nominal", "scale": {"domain": ["patients", "transportation control", "general control"], "range": ["#ff2a0a", "#000000", "#a8a8a8"]}, "legend": {"orient": "none", "legendX": 10, "legendY": 1077, "direction": "horizontal", "title": null, "symbolType": "stroke", "symbolSize": 3600, "symbolStrokeWidth": 4, "labelFontSize": 27, "labelOffset": 15, "columnPadding": 68, "labelColor": "#000", "labelLimit": 500, "padding": 0}}}},
        {"data": {"name": "iv"}, "transform": [{"filter": "datum.panel === 'Cb'"}], "mark": {"type": "point", "filled": true, "size": 45, "opacity": 1},
         "encoding": {
          "x": {"field": "mV", "type": "quantitative", "scale": {"domain": [-100, 100], "nice": false, "zero": false}, "axis": {"title": "membrane potential (mV)", "offset": -126.8, "values": [-100,-80,-60,-40,-20,0,20,40,60,80,100], "labelExpr": "indexof([-100,-60,20,60,100], datum.value) >= 0 ? '' + datum.value : ''", "titleX": 350, "titleY": 40, "titleBaseline": "middle"}},
          "y": {"field": "I", "type": "quantitative", "scale": {"domain": [-20, 30], "nice": false, "zero": false}, "axis": {"title": "current (pA/pF)", "offset": -227, "values": [-20,-15,-10,-5,0,5,10,15,20,25,30], "labelExpr": "datum.value % 10 === 0 && datum.value !== 0 ? '' + datum.value : ''", "titleX": -50, "titleY": 84, "titleBaseline": "middle"}},
          "color": {"field": "group", "type": "nominal", "scale": {"domain": ["general control", "transportation control", "patients"], "range": ["#a8a8a8", "#000000", "#ff2a0a"]}, "legend": null},
          "shape": {"field": "group", "type": "nominal", "scale": {"domain": ["general control", "transportation control", "patients"], "range": ["square", "square", "circle"]}, "legend": null}}}
      ]
    },
    {
      "width": 454,
      "height": 395,
      "layer": [
        {
          "data": {"values": [{"side": "left"}]},
          "mark": {"type": "rule", "color": "#6e6e6e", "strokeWidth": 1},
          "encoding": {
            "x": {"datum": 0, "type": "quantitative", "scale": {"domain": [0.14318, 0.47998], "nice": false, "zero": false}, "axis": null},
            "y": {"datum": -46.643, "type": "quantitative", "scale": {"domain": [-2.089, 13.555], "reverse": true, "nice": false, "zero": false}, "axis": null},
            "y2": {"datum": 13.555}
          }
        },
        {
          "data": {"values": [{"side": "right"}]},
          "mark": {"type": "rule", "color": "#6e6e6e", "strokeWidth": 1},
          "encoding": {
            "x": {"datum": 1, "type": "quantitative"},
            "y": {"datum": -46.643, "type": "quantitative"},
            "y2": {"datum": 13.555}
          }
        },
        {
          "data": {"values": [{"side": "top"}]},
          "mark": {"type": "rule", "color": "#6e6e6e", "strokeWidth": 1},
          "encoding": {
            "x": {"datum": 0, "type": "quantitative"},
            "x2": {"datum": 1},
            "y": {"datum": -46.643, "type": "quantitative"}
          }
        },
        {
          "data": {"values": [{"line": 1, "text": "FIGURE 7 |"}]},
          "mark": {"type": "text", "align": "left", "baseline": "middle", "dx": 16, "fontSize": 18, "fontWeight": "bold", "color": "#231f20"},
          "encoding": {
            "x": {"datum": 0, "type": "quantitative"},
            "y": {"field": "line", "type": "quantitative"},
            "text": {"field": "text"}
          }
        },
        {
          "data": {"values": [{"line": 1, "text": "Whole-cell recordings of ion currents from RBCs of healthy donors and HX patients. Compared are the I/V-curves of all HX patients (N = 6) with the I/V"}]},
          "mark": {"type": "text", "align": "left", "baseline": "middle", "dx": 117, "fontSize": 18, "color": "#231f20"},
          "encoding": {
            "x": {"datum": 0, "type": "quantitative"},
            "y": {"field": "line", "type": "quantitative"},
            "text": {"field": "text"}
          }
        },
        {
          "data": {"values": [
            {"line": 2, "text": "curves of their own transportation controls (N = 4) (Aa) and with the I/V curves of all healthy subjects delivered throughout the study (N = 27) (Ab), where N denotes"},
            {"line": 3, "text": "the number of healthy subjects or HX patients. No changes were observed in capacitance either with the transportation (0.725 pA/pF patients vs. 0.71 pA/pF"},
            {"line": 4, "text": "transportation control; p > 0.05) or with the general control (0.725 pA/pF patients vs. 0.69 pA/pF general control; p > 0.05). Compared are the I/V curves of P51.3"},
            {"line": 5, "text": "and P51.4 pooled together (Family 1) (n = 22) with their own transportation control C51 (n = 7) (Ba) and the I/V curves of P53.2 and P53.3 pooled together (Family 2)"},
            {"line": 6, "text": "(n = 27) with their own transportation control C53 (n = 9) (Ca), where n denotes the number of cells from the patients or the controls. (Bb,Cb) Compare the I/V curve"},
            {"line": 7, "text": "of a general control based on currents recorded from all cells of all healthy subjects delivered throughout the study (n = 175) with the I/V curve of P51.3 and P51.4"},
            {"line": 8, "text": "pooled together (n = 22) (Bb) and P53.2 and P53.3 pooled together (n = 27) (Cb) (n denotes number of cells). P51.3 and P51.4 pooled together (Family 1) and"},
            {"line": 9, "text": "P53.2 and P53.3 pooled together (Family 2) did not show a difference in their capacitance compared to the general or transportation control (0.69 pA/pF P51.3 and"},
            {"line": 10, "text": "P51.4 vs. 0.72 pA/pF C51, p > 0.05; 0.69 pA/pF P51.3 and P51.4 vs. 0.69 pA/pF general control, p > 0.05; 0.75 pA/pF P53.2 and P53.3 vs. 0.71 pA/pF P53,"},
            {"line": 11, "text": "p > 0.05; 0.75 pA/pF P53.2 and P53.3 vs. 0.69 pA/pF general control, p > 0.05) Currents were elicited by voltage steps from –100 to 100 mV for 500 ms in 20 mV"},
            {"line": 12, "text": "increments at Vₕ = –30 mV. Data are expressed as mean current density ± SEMs. Significant differences are determined based on an unpaired t-test with *"},
            {"line": 13, "text": "representing p < 0.05. Mutations below patients numbers are designated as amino acid substitutions in the respective protein."}
          ]},
          "mark": {"type": "text", "align": "left", "baseline": "middle", "dx": 16, "fontSize": 18, "color": "#231f20"},
          "encoding": {
            "x": {"datum": 0, "type": "quantitative"},
            "y": {"field": "line", "type": "quantitative"},
            "text": {"field": "text"}
          }
        }
      ]
    }
  ],
  "config": {
    "font": "Liberation Sans",
    "view": {"stroke": null},
    "title": {"font": "Liberation Sans"},
    "axis": {"domainColor": "#000", "domainWidth": 2.5, "tickColor": "#000", "tickWidth": 2, "tickSize": 7, "labelFont": "Liberation Sans", "labelFontSize": 17, "labelColor": "#000", "labelFlush": false, "labelOverlap": false, "titleFont": "Liberation Sans", "titleFontSize": 20, "titleFontWeight": "normal", "titleColor": "#000", "grid": false},
    "axisX": {"labelPadding": 1},
    "axisY": {"labelPadding": 1},
    "legend": {"labelFont": "Liberation Sans"}
  }
}
